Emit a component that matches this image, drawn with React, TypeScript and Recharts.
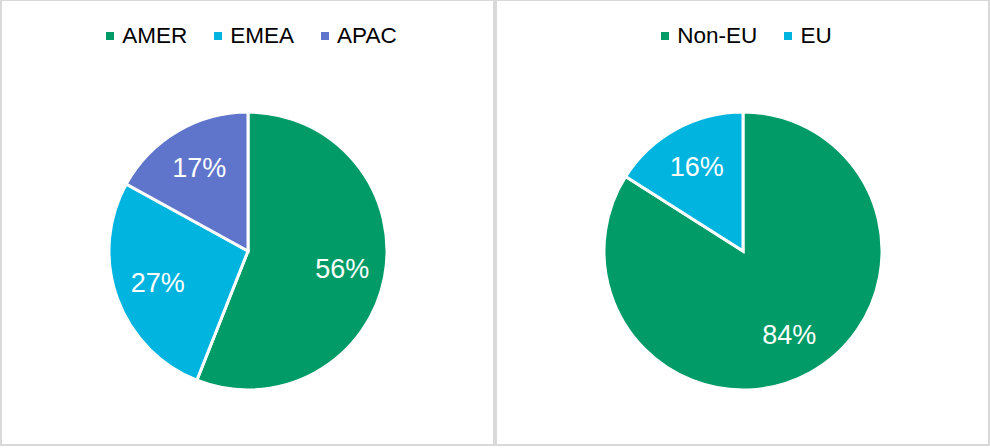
import React from "react";
import { PieChart, Pie, Cell, Legend } from "recharts";

const regionNames = ["AMER", "EMEA", "APAC"];
const regionValues = [56, 27, 17];
const regionColors = ["#009B67", "#00B4E0", "#5E75CB"];

const euNames = ["Non-EU", "EU"];
const euValues = [84, 16];
const euColors = ["#009B67", "#00B4E0"];

const regionData = regionNames.map((name, i) => ({ name, value: regionValues[i] }));
const euData = euNames.map((name, i) => ({ name, value: euValues[i] }));

const FONT = "Arial, 'Liberation Sans', sans-serif";
const RAD = Math.PI / 180;

const renderLabel = (props: any) => {
  const { cx, cy, midAngle, outerRadius, value } = props;
  const r = outerRadius * 0.69;
  const x = cx + r * Math.cos(-midAngle * RAD);
  const y = cy + r * Math.sin(-midAngle * RAD);
  return (
    <text
      x={x}
      y={y}
      fill="#ffffff"
      textAnchor="middle"
      dominantBaseline="central"
      fontFamily={FONT}
      fontSize={27}
    >
      {`${value}%`}
    </text>
  );
};

const makeLegend = (names: string[], colors: string[]) => () => (
  <div
    style={{
      display: "flex",
      justifyContent: "center",
      alignItems: "center",
      fontFamily: FONT,
      fontSize: 22.5,
      color: "#000",
      lineHeight: "26px",
    }}
  >
    {names.map((name, i) => (
      <div
        key={name}
        style={{
          display: "flex",
          alignItems: "center",
          marginLeft: i === 0 ? 0 : 27,
        }}
      >
        <span
          style={{
            display: "inline-block",
            width: 8,
            height: 8,
            background: colors[i],
            marginRight: 8,
          }}
        />
        <span>{name}</span>
      </div>
    ))}
  </div>
);

const Panel = ({ data, names, colors, left }: { data: any[]; names: string[]; colors: string[]; left: number }) => {
  const LegendContent = makeLegend(names, colors);
  return (
    <div
      style={{
        position: "absolute",
        left,
        top: 0,
        width: 495,
        height: 446,
        boxSizing: "border-box",
        borderLeft: "2px solid #d9d9d9",
        borderRight: "2px solid #d9d9d9",
        borderTop: "1px solid #d9d9d9",
        borderBottom: "2px solid #d9d9d9",
        background: "#fff",
      }}
    >
      <div style={{ position: "absolute", left: -2, top: -1 }}>
        <PieChart width={495} height={446} margin={{ top: 0, right: 0, bottom: 0, left: 0 }}>
          <Legend
            verticalAlign="middle"
            layout="horizontal"
            content={<LegendContent />}
            wrapperStyle={{ top: 23, left: 4, width: 495 }}
          />
          <Pie
            data={data}
            dataKey="value"
            nameKey="name"
            cx={248}
            cy={251}
            outerRadius={139}
            startAngle={90}
            endAngle={-270}
            stroke="#ffffff"
            strokeWidth={3}
            label={renderLabel}
            labelLine={false}
            isAnimationActive={false}
          >
            {data.map((d, i) => (
              <Cell key={d.name} fill={colors[i]} />
            ))}
          </Pie>
        </PieChart>
      </div>
    </div>
  );
};

export default function App() {
  return (
    <div
      style={{
        position: "absolute",
        left: 0,
        top: 0,
        width: 990,
        height: 448,
        background: "#fff",
        overflow: "hidden",
      }}
    >
      <Panel data={regionData} names={regionNames} colors={regionColors} left={0} />
      <Panel data={euData} names={euNames} colors={euColors} left={495} />
    </div>
  );
}
